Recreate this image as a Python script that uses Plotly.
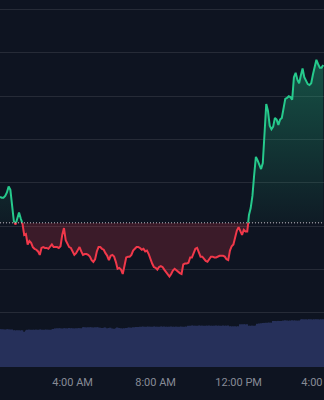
import pandas as pd
import plotly.graph_objects as go

# ---------------- data ----------------
PRICE = [
    99.34, 99.33, 99.33, 99.35, 99.39, 99.46, 99.42, 99.27, 99.06, 99.02,
    99.09, 99.16, 99.09, 99.03, 98.90, 98.91, 98.79, 98.83, 98.81, 98.76,
    98.74, 98.73, 98.71, 98.67, 98.75, 98.76, 98.75, 98.75, 98.74, 98.76,
    98.79, 98.76, 98.76, 98.76, 98.75, 98.77, 98.90, 98.98, 98.84, 98.80,
    98.76, 98.75, 98.71, 98.67, 98.69, 98.73, 98.76, 98.71, 98.67, 98.68,
    98.68, 98.67, 98.65, 98.61, 98.59, 98.62, 98.71, 98.76, 98.76, 98.74,
    98.73, 98.69, 98.66, 98.61, 98.66, 98.67, 98.65, 98.59, 98.51, 98.52,
    98.50, 98.45, 98.57, 98.64, 98.65, 98.65, 98.67, 98.72, 98.74, 98.76,
    98.76, 98.75, 98.73, 98.74, 98.71, 98.72, 98.68, 98.62, 98.57, 98.53,
    98.52, 98.50, 98.53, 98.54, 98.53, 98.50, 98.47, 98.45, 98.42, 98.45,
    98.49, 98.51, 98.49, 98.47, 98.46, 98.45, 98.56, 98.57, 98.57, 98.58,
    98.64, 98.64, 98.69, 98.74, 98.75, 98.69, 98.65, 98.65, 98.62, 98.60,
    98.59, 98.62, 98.65, 98.65, 98.64, 98.64, 98.65, 98.66, 98.66, 98.66,
    98.65, 98.62, 98.61, 98.72, 98.77, 98.79, 98.87, 98.95, 98.99, 98.94,
    98.90, 98.96, 98.94, 98.94, 99.13, 99.21, 99.35, 99.59, 99.80, 99.76,
    99.71, 99.66, 99.73, 100.05, 100.41, 100.33, 100.16, 100.12, 100.15, 100.25,
    100.23, 100.17, 100.23, 100.25, 100.35, 100.47, 100.48, 100.50, 100.49, 100.46,
    100.72, 100.77, 100.69, 100.65, 100.74, 100.82, 100.72, 100.67, 100.64, 100.63,
    100.65, 100.75, 100.85, 100.92, 100.87, 100.83, 100.83, 100.86,
]

VOLUME = [
    1880, 1890, 1885, 1880, 1890, 1885, 1875, 1880,
    1835, 1830, 1840, 1835, 1830, 1835,
    1765,
    1825,
    1860, 1870, 1865, 1865, 1860, 1870, 1865, 1870, 1865, 1860, 1865, 1870, 1865, 1860, 1870,
    1900,
    1930, 1940, 1935, 1935, 1930, 1940, 1935, 1930, 1945, 1940, 1935, 1930, 1940, 1935, 1945, 1940,
    1985, 1990, 1980, 1985, 1990, 1985, 1975, 1985, 1990, 1980,
    1965, 1950, 1965, 1975, 1935, 1950, 1965, 1925, 1915, 1935, 1975, 1950,
    1935, 1925, 1935, 1950, 1965, 1975, 1965, 1985, 1985, 2000, 2000, 2010,
    2015, 2020, 2010, 2015, 2020, 2015, 2010, 2020, 2015, 2015, 2010, 2020, 2015, 2020,
    2015, 2010, 2015, 2020, 2015, 2010, 2020, 2015, 2015, 2020, 2010, 2015, 2020,
    2060, 2065, 2070, 2065, 2065, 2060, 2070, 2065, 2070, 2065, 2060, 2065,
    2070, 2065, 2060, 2065, 2070, 2065, 2065, 2060, 2070, 2065, 2065, 2070,
    2035, 2030, 2035, 2040, 2030, 2035,
    2135, 2140, 2135, 2130, 2135,
    2065, 2060, 2070, 2065, 2075,
    2160, 2175, 2190, 2200, 2205, 2210, 2215, 2220, 2215,
    2300, 2300, 2295, 2305, 2300, 2295,
    2320, 2335, 2330, 2310, 2320, 2335, 2330, 2325, 2320, 2330,
    2380, 2390, 2385, 2385, 2380, 2390, 2385, 2380, 2385, 2390, 2385, 2380, 2385, 2390,
]

BASELINE = 99.04
GRID_LEVELS = [98.0, 98.5, 99.0, 99.5, 100.0, 100.5, 101.0, 101.5]
START = "2024-01-15 00:30"
TIME = pd.date_range(START, periods=len(PRICE), freq="5min")

# ---------------- style / layout ----------------
BG = "#0e1421"
GRID = "#262b37"
GREEN = "#26c98c"
RED = "#f0384a"
VOL_COLOR = "#26305a"
TEXT = "#878b96"

Y_LO, Y_HI = 97.377, 101.610
X_RANGE = ["2024-01-15 00:30", "2024-01-15 16:07"]
VOL_RANGE = [0, 18350]

split = (BASELINE - Y_LO) / (Y_HI - Y_LO)
n = len(PRICE)

fig = go.Figure()

# volume (overlay axis on the full-height grid axis)
fig.add_trace(go.Bar(
    x=TIME[:len(VOLUME)], y=VOLUME, xaxis="x", yaxis="y4",
    marker=dict(color=VOL_COLOR, line=dict(width=0)), hoverinfo="skip",
))

# above-baseline part (clipped to the upper subplot)
fig.add_trace(go.Scatter(
    x=TIME, y=PRICE, mode="lines", xaxis="x", yaxis="y2",
    line=dict(color=GREEN, width=2),
    fill="tozeroy",
    fillgradient=dict(
        type="vertical",
        colorscale=[[0, "rgba(38,201,140,0.04)"], [1, "rgba(38,201,140,0.34)"]],
        start=BASELINE, stop=max(PRICE),
    ),
    hoverinfo="skip",
))

# below-baseline part (clipped to the lower subplot)
fig.add_trace(go.Scatter(
    x=TIME, y=[BASELINE] * n, mode="lines", xaxis="x", yaxis="y3",
    line=dict(width=0, color="rgba(0,0,0,0)"), hoverinfo="skip",
))
fig.add_trace(go.Scatter(
    x=TIME, y=PRICE, mode="lines", xaxis="x", yaxis="y3",
    line=dict(color=RED, width=2),
    fill="tonexty", fillcolor="rgba(240,56,74,0.2)",
    hoverinfo="skip",
))

fig.add_shape(
    type="line", xref="paper", x0=0, x1=1, yref="y", y0=BASELINE, y1=BASELINE,
    line=dict(color="rgba(220,222,228,0.85)", width=1, dash="1px,2px"),
    layer="above",
)

hidden = dict(showgrid=False, zeroline=False, showticklabels=False, ticks="",
              showline=False, automargin=False, fixedrange=True)

fig.update_layout(
    template="none",
    width=324, height=400,
    margin=dict(l=0, r=0, t=0, b=33, pad=0),
    paper_bgcolor=BG, plot_bgcolor="rgba(0,0,0,0)",
    showlegend=False,
    bargap=0.15,
    xaxis=dict(
        type="date", range=X_RANGE, anchor="y",
        showgrid=False, zeroline=False, showline=False, ticks="",
        tickformat="%-I:%M %p", dtick=4 * 3600 * 1000, tick0="2024-01-15 00:00",
        tickfont=dict(family="Roboto", size=11, color=TEXT),
        ticklabeloverflow="allow", ticklabelstandoff=7,
        automargin=False, fixedrange=True,
    ),
    yaxis=dict(
        domain=[0, 1], range=[Y_LO, Y_HI],
        tickmode="array", tickvals=GRID_LEVELS,
        showgrid=True, gridcolor=GRID, gridwidth=1,
        showticklabels=False, zeroline=False, ticks="", showline=False,
        automargin=False, fixedrange=True,
    ),
    yaxis2=dict(domain=[split, 1], range=[BASELINE, Y_HI], anchor="x", **hidden),
    yaxis3=dict(domain=[0, split], range=[Y_LO, BASELINE], anchor="x", **hidden),
    yaxis4=dict(overlaying="y", range=VOL_RANGE, **hidden),
)

fig.write_html("out.html", config={"displayModeBar": False})
